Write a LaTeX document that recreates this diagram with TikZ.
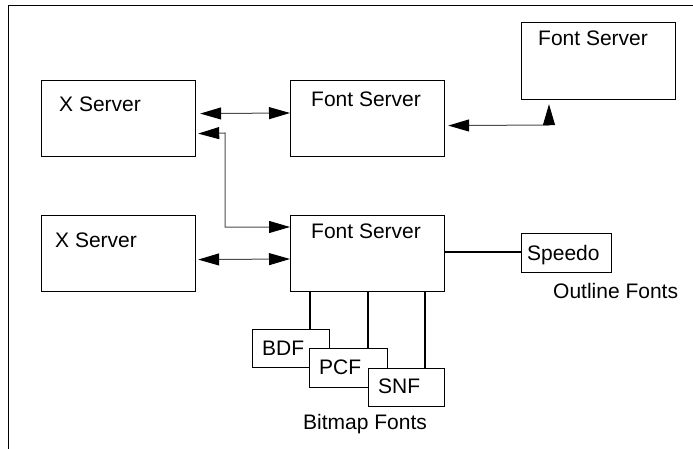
\documentclass[tikz,border=0pt]{standalone}
\usepackage{fontspec}
\setmainfont{Liberation Sans}
\usetikzlibrary{arrows.meta,calc}
\begin{document}
\begin{tikzpicture}[x=1pt,y=-1pt,
  box/.style={draw=black, line width=1.2pt, fill=white, rectangle, inner sep=0pt, anchor=north west},
  lbl/.style={anchor=base west, inner sep=0pt, font=\fontsize{21}{25}\selectfont},
  conn/.style={draw=black!70, line width=1pt},
  tri/.tip={Triangle[length=21pt,width=12pt,color=black]},
  biarrow/.style={conn, tri-tri},
  wire/.style={draw=black, line width=1.1pt},
]
\useasboundingbox (0,0) rectangle (693,449);
% frame
\coordinate (fb) at (8,449);
\coordinate (fc) at (8,6);
\coordinate (fr) at (693,6);
\draw[line width=1pt] (fb) -- (fc) -- (fr);

% boxes
\node[box, minimum width=154pt, minimum height=76pt] (xs1) at (41,80) {};
\node[box, minimum width=154pt, minimum height=76pt] (fs1) at (290,80) {};
\node[box, minimum width=154pt, minimum height=77pt] (fs3) at (521,22) {};
\node[box, minimum width=154pt, minimum height=76pt] (xs2) at (41,215) {};
\node[box, minimum width=154pt, minimum height=76pt] (fs2) at (290,215) {};
\node[box, minimum width=90pt, minimum height=39pt] (sp) at (521,233) {};
\node[box, minimum width=77pt, minimum height=38pt] (bdf) at (252,329) {};
\node[box, minimum width=78pt, minimum height=39pt] (pcf) at (309,348) {};
\node[box, minimum width=76pt, minimum height=38pt] (snf) at (368,368) {};

% labels
\node[lbl] (xs1t) at (59,112) {X Server};
\node[lbl] (fs1t) at (311,106.5) {Font Server};
\node[lbl] (fs3t) at (538,45.5) {Font Server};
\node[lbl] (xs2t) at (55,247.5) {X Server};
\node[lbl] (fs2t) at (311,238) {Font Server};
\node[lbl] (spt) at (527,260) {Speedo};
\node[lbl] (olt) at (553,298) {Outline Fonts};
\node[lbl] (bdft) at (262,355) {BDF};
\node[lbl] (pcft) at (319,374) {PCF};
\node[lbl] (snft) at (378,393) {SNF};
\node[lbl] (bmt) at (303,429) {Bitmap Fonts};

% arrows
\draw[biarrow] ($(xs1.east)+(4,-5)$) -- (fs1.west |- 0,113);
\coordinate (b1) at (225,133);
\coordinate (b2) at (225,227);
\draw[biarrow] ($(xs1.east)+(2,15)$) -- (b1) -- (b2) -- (fs2.west |- b2);
\draw[biarrow] ($(xs2.east)+(2,6)$) -- (fs2.west |- 0,259);
\coordinate (d1) at (549,125);
\draw[biarrow] ($(fs1.east)+(3,7)$) -- (d1) -- ($(fs3.south west)+(28,4)$);

% wires
\draw[wire] (fs2.east |- 0,252) -- (sp.west |- 0,252);
\draw[wire] (fs2.south -| 310,0) -- (bdf.north -| 310,0);
\draw[wire] (fs2.south -| 368,0) -- (pcf.north -| 368,0);
\draw[wire] (fs2.south -| 425,0) -- (snf.north -| 425,0);
\end{tikzpicture}
\end{document}
